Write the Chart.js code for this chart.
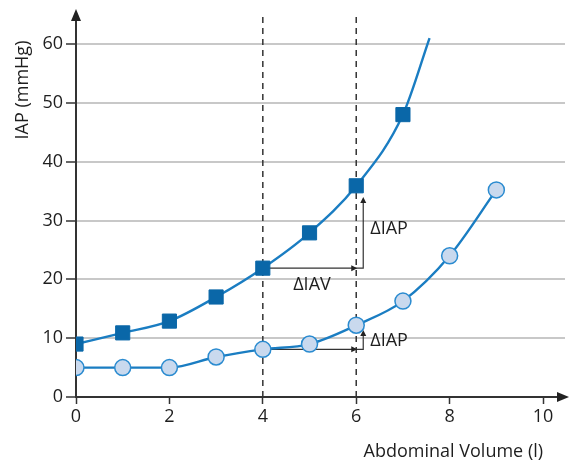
<!DOCTYPE html>
<html>
<head>
<meta charset="utf-8">
<script src="https://cdn.jsdelivr.net/npm/chart.js@4/dist/chart.umd.min.js"></script>
<style>
  html, body { margin: 0; padding: 0; background: #fff; }
  #wrap { width: 576px; height: 464px; }
</style>
</head>
<body>
<div id="wrap"><canvas id="c" width="576" height="464"></canvas></div>
<script>
// data
const volume = [0, 1, 2, 3, 4, 5, 6, 7, 8, 9];
const iapSquares = [9, 10.9, 12.9, 17, 21.9, 27.9, 35.9, 48];
const iapCircles = [5, 5, 5, 6.8, 8.1, 9, 12.2, 16.3, 24, 35.2];
// square curve keeps going past the last marker
const squareTail = { x: 7.57, y: 61 };

const yTicks = [0, 10, 20, 30, 40, 50, 60];
const xTicks = [0, 2, 4, 6, 8, 10];
const dashedAt = [4, 6];

const FONT = "'Open Sans', 'DejaVu Sans', sans-serif";
const TEXT = "#1e1e1e";
const LINE = "#1a7dc2";

const squarePts = iapSquares.map((y, i) => ({ x: volume[i], y }));
squarePts.push(squareTail);
const circlePts = iapCircles.map((y, i) => ({ x: volume[i], y }));

function arrowHead(ctx, x, y, dir) {
  const s = 6;
  ctx.beginPath();
  if (dir === "up") {
    ctx.moveTo(x, y); ctx.lineTo(x - s / 2, y + s); ctx.lineTo(x + s / 2, y + s);
  } else {
    ctx.moveTo(x, y); ctx.lineTo(x - s, y - s / 2); ctx.lineTo(x - s, y + s / 2);
  }
  ctx.closePath();
  ctx.fill();
}

// dashed guides, delta arrows and axis arrows
const extras = {
  id: "extras",
  beforeDatasetsDraw(chart) {
    const { ctx, chartArea: a, scales: { x, y } } = chart;
    ctx.save();
    ctx.strokeStyle = "#333";
    ctx.lineWidth = 1.5;
    ctx.setLineDash([6, 5]);
    dashedAt.forEach(v => {
      const px = x.getPixelForValue(v);
      ctx.beginPath();
      ctx.moveTo(px, a.bottom);
      ctx.lineTo(px, a.top - 2);
      ctx.stroke();
    });
    ctx.setLineDash([]);

    // delta arrows: from x=4 to x=6, then up
    const corner = 6.15;
    const drawDelta = (yFrom, yTo) => {
      const x0 = x.getPixelForValue(4), x6 = x.getPixelForValue(6), xc = x.getPixelForValue(corner);
      const y0 = y.getPixelForValue(yFrom), y1 = y.getPixelForValue(yTo);
      ctx.strokeStyle = "#333";
      ctx.fillStyle = "#222";
      ctx.lineWidth = 1.2;
      ctx.beginPath();
      ctx.moveTo(x0, y0); ctx.lineTo(xc, y0); ctx.lineTo(xc, y1 + 4);
      ctx.stroke();
      arrowHead(ctx, x6 + 1, y0, "right");
      arrowHead(ctx, xc, y1, "up");
    };
    drawDelta(iapSquares[4], 34);
    drawDelta(iapCircles[4], 11.4);
    ctx.restore();
  },
  afterDraw(chart) {
    const { ctx, chartArea: a, scales: { x, y } } = chart;
    ctx.save();
    ctx.fillStyle = "#222";
    // axis arrowheads
    ctx.beginPath();
    ctx.moveTo(a.left, a.top - 5); ctx.lineTo(a.left - 5, a.top + 7); ctx.lineTo(a.left + 5, a.top + 7);
    ctx.closePath(); ctx.fill();
    ctx.beginPath();
    ctx.moveTo(a.right + 4, a.bottom); ctx.lineTo(a.right - 8, a.bottom - 5); ctx.lineTo(a.right - 8, a.bottom + 5);
    ctx.closePath(); ctx.fill();

    ctx.fillStyle = TEXT;
    ctx.font = "500 18px " + FONT;
    ctx.textBaseline = "middle";
    ctx.textAlign = "left";
    ctx.fillText("ΔIAP", x.getPixelForValue(6.3), y.getPixelForValue(28.5));
    ctx.fillText("ΔIAP", x.getPixelForValue(6.3), y.getPixelForValue(9.6));
    ctx.fillText("ΔIAV", x.getPixelForValue(4.65), y.getPixelForValue(19));

    // axis titles
    ctx.textAlign = "right";
    ctx.fillText("Abdominal Volume (l)", x.getPixelForValue(10), 452);
    ctx.translate(23, 90);
    ctx.rotate(-Math.PI / 2);
    ctx.textAlign = "center";
    ctx.fillText("IAP (mmHg)", 0, 0);
    ctx.restore();
  }
};

new Chart(document.getElementById("c"), {
  type: "line",
  data: {
    datasets: [
      {
        data: circlePts,
        borderColor: LINE,
        borderWidth: 2.4,
        cubicInterpolationMode: "monotone",
        pointStyle: "circle",
        pointRadius: 8,
        pointBorderWidth: 1.5,
        pointBackgroundColor: "#c9d9ee",
        pointBorderColor: "#2a8bd0"
      },
      {
        data: squarePts,
        borderColor: LINE,
        borderWidth: 2.4,
        cubicInterpolationMode: "monotone",
        pointStyle: "rect",
        pointRadius: ctx => ctx.dataIndex < iapSquares.length ? 10 : 0,
        pointBorderWidth: 1,
        pointBackgroundColor: "#0a67a8",
        pointBorderColor: "#0a67a8"
      }
    ]
  },
  options: {
    responsive: false,
    animation: false,
    events: [],
    layout: { padding: { top: 14, right: 0, left: 0, bottom: 0 } },
    plugins: { legend: { display: false }, tooltip: { enabled: false } },
    scales: {
      x: {
        type: "linear",
        min: 0,
        max: 10.47,
        afterFit: s => { s.height = 67; },
        afterBuildTicks: s => { s.ticks = xTicks.map(v => ({ value: v })); },
        grid: { drawOnChartArea: false, drawTicks: true, tickLength: 7, tickColor: "#333", tickWidth: 1.5 },
        border: { color: "#333", width: 2 },
        ticks: { color: TEXT, font: { family: FONT, size: 18, weight: 500 }, padding: 2, maxRotation: 0 }
      },
      y: {
        min: 0,
        max: 65.1,
        afterFit: s => { s.width = 76; },
        afterBuildTicks: s => { s.ticks = yTicks.map(v => ({ value: v })); },
        grid: { color: ctx => ctx.tick && ctx.tick.value === 0 ? "rgba(0,0,0,0)" : "#c8c8c8", lineWidth: 2, tickLength: 10, tickColor: "#333", tickWidth: 1.5 },
        border: { color: "#333", width: 2 },
        ticks: { color: TEXT, font: { family: FONT, size: 18, weight: 500 }, padding: 3 }
      }
    }
  },
  plugins: [extras]
});
</script>
</body>
</html>
